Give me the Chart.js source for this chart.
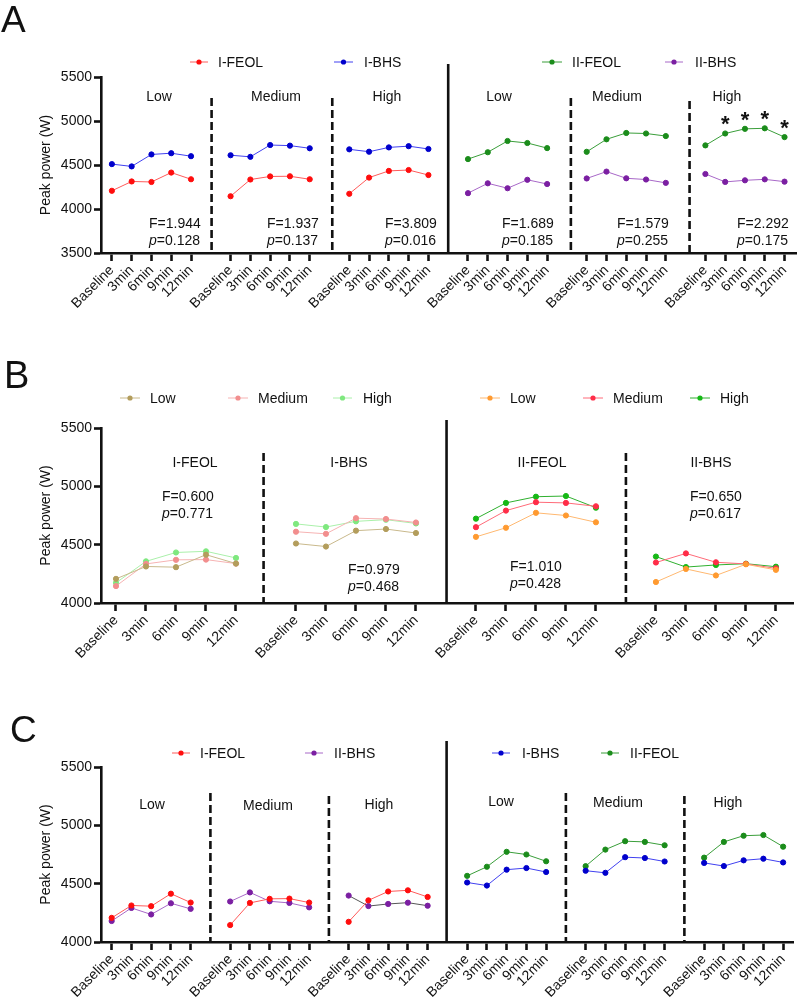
<!DOCTYPE html>
<html>
<head>
<meta charset="utf-8">
<script src="https://cdn.jsdelivr.net/npm/chart.js@4"></script>
<style>
    html, body { margin: 0; padding: 0; background: #fff; }
    #wrap { position: relative; width: 800px; height: 1002px; overflow: hidden; }
    canvas { position: absolute; left: 0; }
</style>
</head>
<body>
<div id="wrap">
    <canvas id="chartA" width="800" height="320" style="top:0"></canvas>
    <canvas id="chartB" width="800" height="350" style="top:320px"></canvas>
    <canvas id="chartC" width="800" height="352" style="top:650px"></canvas>
</div>
<script>
const FONT = "'Liberation Sans', Arial, sans-serif";
const INK = '#111';

// --- DATA ---
const timeLabels = ['Baseline', '3min', '6min', '9min', '12min'];
const intensityLabels = ['Low', 'Medium', 'High'];
const groupLabelsB = ['I-FEOL', 'I-BHS', 'II-FEOL', 'II-BHS'];
const yTicksA = [3500, 4000, 4500, 5000, 5500];
const yTicksBC = [4000, 4500, 5000, 5500];

// Peak power (W), Baseline..12min
const feolILow   = [4207, 4313, 4307, 4414, 4338];
const feolIMed   = [4145, 4335, 4370, 4372, 4338];
const feolIHigh  = [4173, 4357, 4433, 4443, 4386];
const bhsILow    = [4510, 4484, 4620, 4634, 4600];
const bhsIMed    = [4611, 4593, 4727, 4720, 4690];
const bhsIHigh   = [4678, 4651, 4700, 4714, 4682];
const feolIILow  = [4567, 4645, 4773, 4750, 4692];
const feolIIMed  = [4650, 4792, 4864, 4858, 4829];
const feolIIHigh = [4723, 4858, 4911, 4917, 4817];
const bhsIILow   = [4180, 4292, 4236, 4332, 4284];
const bhsIIMed   = [4347, 4425, 4349, 4335, 4297];
const bhsIIHigh  = [4398, 4308, 4326, 4337, 4311];

// F / p per group
const statsA = [['1.944', '0.128'], ['1.937', '0.137'], ['3.809', '0.016'], ['1.689', '0.185'], ['1.579', '0.255'], ['2.292', '0.175']];
const statsB = [['0.600', '0.771'], ['0.979', '0.468'], ['1.010', '0.428'], ['0.650', '0.617']];
const starIdx = [1, 2, 3, 4]; // II-FEOL High, marked *

// --- COLOURS ---
const RED = ['#ff0d0d', '#ff5a5a'];
const BLUE = ['#0000cc', '#4040f0'];
const GREEN = ['#1b8c1b', '#3a9e3a'];
const PURPLE = ['#7b1fa2', '#a868c8'];
const TAN = ['#b39d5c', '#c9b98c'];
const PINK = ['#f28e8e', '#f6b3b3'];
const LGREEN = ['#7fe87f', '#aaf0aa'];
const ORANGE = ['#ff9a30', '#ffb870'];
const RED2 = ['#ff2d48', '#ff6a78'];
const GREEN2 = ['#16b816', '#2fb02f'];

// --- HELPERS ---
const series = (vals, start, col, lineCol) => ({
    data: vals.map((v, i) => ({ x: start + i, y: v })),
    borderColor: lineCol || col[1],
    backgroundColor: col[0],
    pointBackgroundColor: col[0],
    pointBorderColor: col[0],
    borderWidth: 1,
    pointRadius: 2.6,
    pointHoverRadius: 2.6,
    tension: 0
});

const slotTicks = (groups) => {
    const out = [];
    for (let g = 0; g < groups; g++) for (let i = 0; i < 5; i++) out.push(g * 6 + i);
    return out;
};

const drawStat = (ctx, x, yF, yP, st) => {
    ctx.font = `14px ${FONT}`;
    ctx.fillText('F=' + st[0], x, yF);
    ctx.font = `italic 14px ${FONT}`;
    ctx.fillText('p', x, yP);
    const w = ctx.measureText('p').width;
    ctx.font = `14px ${FONT}`;
    ctx.fillText('=' + st[1], x + w, yP);
};

const makeDecor = (cfg) => ({
    id: 'decor',
    afterDraw(chart) {
        const { ctx, chartArea } = chart;
        const x = chart.scales.x, y = chart.scales.y;
        ctx.save();
        // dividers
        cfg.dividers.forEach(d => {
            const px = x.getPixelForValue(d.slot);
            ctx.beginPath();
            ctx.setLineDash(d.dashed ? [8, 4] : []);
            ctx.lineWidth = 2.6;
            ctx.strokeStyle = INK;
            ctx.moveTo(px, d.top);
            ctx.lineTo(px, chartArea.bottom);
            ctx.stroke();
        });
        ctx.setLineDash([]);
        ctx.fillStyle = INK;
        // panel letter
        ctx.font = `${cfg.letter.size}px ${FONT}`;
        ctx.textAlign = 'left';
        ctx.textBaseline = 'alphabetic';
        ctx.fillText(cfg.letter.text, cfg.letter.x, cfg.letter.y);
        // legend
        cfg.legend.forEach(l => {
            ctx.strokeStyle = l.col[1];
            ctx.lineWidth = 1;
            ctx.beginPath();
            ctx.moveTo(l.x1, l.y);
            ctx.lineTo(l.x2, l.y);
            ctx.stroke();
            ctx.fillStyle = l.col[0];
            ctx.beginPath();
            ctx.arc((l.x1 + l.x2) / 2, l.y, 2.6, 0, Math.PI * 2);
            ctx.fill();
            ctx.fillStyle = INK;
            ctx.font = `14px ${FONT}`;
            ctx.fillText(l.text, l.tx, l.y + 5);
        });
        // group labels
        ctx.textAlign = 'center';
        ctx.font = `14px ${FONT}`;
        cfg.groups.forEach(g => ctx.fillText(g.text, g.x, g.y));
        // stats
        ctx.textAlign = 'left';
        cfg.stats.forEach(s => drawStat(ctx, s.x, s.yF, s.yP, s.st));
        // stars
        if (cfg.stars) {
            ctx.textAlign = 'center';
            ctx.font = `bold 22px ${FONT}`;
            cfg.stars.idx.forEach(i => {
                const px = x.getPixelForValue(cfg.stars.start + i);
                const py = y.getPixelForValue(cfg.stars.vals[i]);
                ctx.fillText('*', px, py - 2);
            });
        }
        ctx.restore();
    }
});

const buildChart = (id, p) => {
    const ticks = slotTicks(p.groups);
    return new Chart(document.getElementById(id), {
        type: 'line',
        data: { datasets: p.datasets },
        options: {
            responsive: false,
            animation: false,
            events: [],
            layout: { padding: { top: p.top, right: p.right, left: 0, bottom: 0 } },
            plugins: { legend: { display: false }, tooltip: { enabled: false } },
            scales: {
                x: {
                    type: 'linear',
                    min: p.xMin,
                    max: p.xMax,
                    afterBuildTicks: s => { s.ticks = ticks.map(v => ({ value: v })); },
                    afterFit: s => { s.height = p.xAxisH; },
                    border: { color: INK, width: 2.6 },
                    grid: { drawOnChartArea: false, color: INK, tickLength: 8, tickWidth: 2.6 },
                    ticks: {
                        color: INK, font: { family: FONT, size: 14 },
                        minRotation: 45, maxRotation: 45, autoSkip: false, padding: 1,
                        callback: v => timeLabels[Math.round(v) % 6]
                    }
                },
                y: {
                    min: p.yTicks[0],
                    max: p.yTicks[p.yTicks.length - 1],
                    afterBuildTicks: s => { s.ticks = p.yTicks.map(v => ({ value: v })); },
                    afterFit: s => { s.width = 101; },
                    border: { color: INK, width: 2.6 },
                    grid: { drawOnChartArea: false, color: INK, tickLength: 7, tickWidth: 2.6 },
                    ticks: { color: INK, font: { family: FONT, size: 14 }, padding: 2, callback: v => String(v) },
                    title: {
                        display: true, text: 'Peak power (W)', color: INK,
                        font: { family: FONT, size: 14 }, padding: { top: 38, bottom: 0 }
                    }
                }
            }
        },
        plugins: [makeDecor(p.decor)]
    });
};

// --- PANEL A ---
buildChart('chartA', {
    groups: 6, xMin: -0.55, xMax: 34.6, top: 77, right: 2, xAxisH: 67, yTicks: yTicksA,
    datasets: [
        series(feolILow, 0, RED), series(feolIMed, 6, RED), series(feolIHigh, 12, RED),
        series(bhsILow, 0, BLUE), series(bhsIMed, 6, BLUE), series(bhsIHigh, 12, BLUE),
        series(feolIILow, 18, GREEN), series(feolIIMed, 24, GREEN), series(feolIIHigh, 30, GREEN),
        series(bhsIILow, 18, PURPLE), series(bhsIIMed, 24, PURPLE), series(bhsIIHigh, 30, PURPLE)
    ],
    decor: {
        letter: { text: 'A', x: 1, y: 32, size: 37 },
        legend: [
            { x1: 190, x2: 208, tx: 218, y: 62, text: 'I-FEOL', col: RED },
            { x1: 334, x2: 353, tx: 364, y: 62, text: 'I-BHS', col: BLUE },
            { x1: 542, x2: 562, tx: 572, y: 62, text: 'II-FEOL', col: GREEN },
            { x1: 665, x2: 683, tx: 695, y: 62, text: 'II-BHS', col: PURPLE }
        ],
        groups: [159, 276, 387, 499, 617, 727].map((cx, i) => ({ text: intensityLabels[i % 3], x: cx, y: 101 })),
        stats: [149, 267, 385, 502, 617, 737].map((sx, i) => ({ x: sx, yF: 228, yP: 245, st: statsA[i] })),
        dividers: [
            { slot: 5.04, top: 98, dashed: true }, { slot: 11.14, top: 98, dashed: true },
            { slot: 17, top: 64, dashed: false },
            { slot: 23.2, top: 98, dashed: true }, { slot: 29.2, top: 101, dashed: true }
        ],
        stars: { start: 30, vals: feolIIHigh, idx: starIdx }
    }
});

// --- PANEL B ---
buildChart('chartB', {
    groups: 4, xMin: -0.5, xMax: 22.57, top: 108, right: 7, xAxisH: 67, yTicks: yTicksBC,
    datasets: [
        series(feolILow, 0, TAN), series(feolIMed, 0, PINK), series(feolIHigh, 0, LGREEN),
        series(bhsILow, 6, TAN), series(bhsIMed, 6, PINK), series(bhsIHigh, 6, LGREEN),
        series(feolIILow, 12, ORANGE), series(feolIIMed, 12, RED2), series(feolIIHigh, 12, GREEN2),
        series(bhsIILow, 18, ORANGE), series(bhsIIMed, 18, RED2), series(bhsIIHigh, 18, GREEN2)
    ],
    decor: {
        letter: { text: 'B', x: 4, y: 68, size: 38 },
        legend: [
            { x1: 120, x2: 140, tx: 150, y: 78, text: 'Low', col: TAN },
            { x1: 228, x2: 248, tx: 258, y: 78, text: 'Medium', col: PINK },
            { x1: 333, x2: 352, tx: 363, y: 78, text: 'High', col: LGREEN },
            { x1: 480, x2: 500, tx: 510, y: 78, text: 'Low', col: ORANGE },
            { x1: 583, x2: 603, tx: 613, y: 78, text: 'Medium', col: RED2 },
            { x1: 690, x2: 710, tx: 720, y: 78, text: 'High', col: GREEN2 }
        ],
        groups: [195, 349, 542, 711].map((cx, i) => ({ text: groupLabelsB[i], x: cx, y: 147 })),
        stats: [
            { x: 162, yF: 181, yP: 198, st: statsB[0] },
            { x: 348, yF: 254, yP: 271, st: statsB[1] },
            { x: 510, yF: 251, yP: 268, st: statsB[2] },
            { x: 690, yF: 181, yP: 198, st: statsB[3] }
        ],
        dividers: [
            { slot: 4.92, top: 133, dashed: true },
            { slot: 11.02, top: 100, dashed: false },
            { slot: 17, top: 133, dashed: true }
        ]
    }
});

// --- PANEL C ---
buildChart('chartC', {
    groups: 6, xMin: -0.54, xMax: 34.5, top: 117, right: 7, xAxisH: 60, yTicks: yTicksBC,
    datasets: [
        series(feolILow, 0, RED), series(feolIMed, 6, RED), series(feolIHigh, 12, RED),
        series(bhsIILow, 0, PURPLE), series(bhsIIMed, 6, PURPLE), series(bhsIIHigh, 12, PURPLE, '#555'),
        series(bhsILow, 18, BLUE), series(bhsIMed, 24, BLUE), series(bhsIHigh, 30, BLUE),
        series(feolIILow, 18, GREEN), series(feolIIMed, 24, GREEN), series(feolIIHigh, 30, GREEN)
    ],
    decor: {
        letter: { text: 'C', x: 10, y: 92, size: 37 },
        legend: [
            { x1: 172, x2: 190, tx: 200, y: 103, text: 'I-FEOL', col: RED },
            { x1: 305, x2: 323, tx: 334, y: 103, text: 'II-BHS', col: PURPLE },
            { x1: 492, x2: 510, tx: 522, y: 103, text: 'I-BHS', col: BLUE },
            { x1: 601, x2: 619, tx: 630, y: 103, text: 'II-FEOL', col: GREEN }
        ],
        groups: [[152, 159], [268, 160], [379, 159], [501, 156], [618, 157], [728, 157]]
            .map((g, i) => ({ text: intensityLabels[i % 3], x: g[0], y: g[1] })),
        stats: [],
        dividers: [
            { slot: 5, top: 143, dashed: true }, { slot: 11, top: 146, dashed: true },
            { slot: 16.96, top: 91, dashed: false },
            { slot: 23, top: 143, dashed: true }, { slot: 29, top: 146, dashed: true }
        ]
    }
});
</script>
</body>
</html>
